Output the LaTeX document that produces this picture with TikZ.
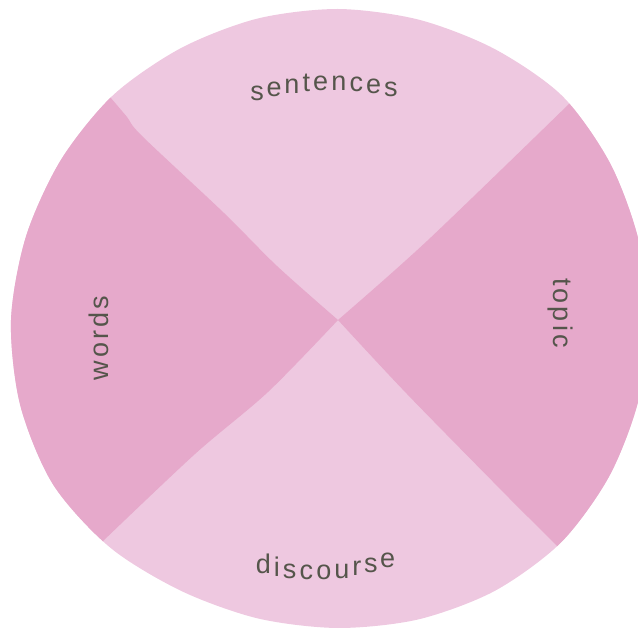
\documentclass[tikz,border=0pt]{standalone}
\usepackage{fontspec}
\newfontfamily\labelfont{Liberation Sans}
\usetikzlibrary{calc, decorations.text}
\definecolor{petallight}{HTML}{EEC8E0}
\definecolor{petaldark}{HTML}{E6A9CB}
\definecolor{inktext}{HTML}{55554B}
\newcommand{\ringfont}{\labelfont\fontsize{27}{32}\selectfont}
\newcommand{\spacedfont}{\ringfont\addfontfeatures{LetterSpace=12}}
% outline of the wheel, polar round the hub
\newcommand{\wheel}{plot[smooth cycle] coordinates {
  (0:310) (15:311) (30:314) (45:317) (60:313) (75:311) (90:311)
  (105:312) (120:314) (135:318) (150:320) (165:323) (180:327)
  (195:329) (210:329) (225:322) (240:313) (255:309) (270:308)
  (285:310) (300:313) (315:315) (330:313) (345:311)}}

\begin{document}
\begin{tikzpicture}[x=1pt, y=1pt,
    wheellabel/.style={font=\spacedfont, text=inktext, inner sep=0pt},
    arclabel/.style={decorate, decoration={text effects along path,
      text={#1}, text align=center, text effects/.cd,
      characters={font=\ringfont, text=inktext, anchor=base, inner sep=0pt},
      character widths={font=\ringfont, inner xsep=1.6pt, inner ysep=0pt}}}]
  \useasboundingbox (0,0) rectangle (638,630);
  \clip (0,0) rectangle (638,630);
  \coordinate (hub) at (338,310);
  \coordinate (sc) at (333,273);
  \coordinate (dc) at (315,260);

  % wheel with the two darker petals
  \begin{scope}[shift={(hub)}]
    \fill[petallight] \wheel;
    \clip \wheel;
    \fill[petaldark] plot[smooth, tension=0.5] coordinates
        {(0,0) (-61,54) (-114,107) (-196,184) (-211,203) (-228,223)}
      -- (-278,282) -- (-378,282) -- (-378,-280) -- (-278,-262)
      -- plot[smooth, tension=0.5] coordinates
        {(-236,-222) (-143,-134) (-70,-72) (0,0)} -- cycle;
    \fill[petaldark] plot[smooth, tension=0.5] coordinates
        {(0,0) (89,79) (232,217)}
      -- (277,265) -- (362,265) -- (362,-270) -- (262,-269)
      -- plot[smooth, tension=0.5] coordinates
        {(220,-227) (191,-198) (171,-178) (69,-74) (0,0)} -- cycle;
  \end{scope}

  % labels
  \path[arclabel=sentences] ($(sc)+(122:267)$)
    arc[start angle=122, end angle=62, radius=267];
  \path[arclabel=discourse] ($(dc)+(240:210)$)
    arc[start angle=240, end angle=306, radius=210];
  \node[wheellabel, rotate=90, anchor=base] (words) at (108,292) {words};
  \node[wheellabel, rotate=-90, anchor=base] (topic) at (553,317) {topic};
\end{tikzpicture}
\end{document}
